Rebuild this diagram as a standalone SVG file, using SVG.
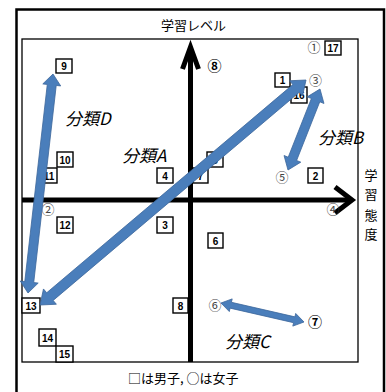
<svg xmlns="http://www.w3.org/2000/svg" width="386" height="392" viewBox="0 0 386 392">
<style>
.box rect{fill:#fff;stroke:#000;stroke-width:1.4}
.box text{font-family:"Liberation Sans Narrow","Liberation Sans",sans-serif;font-weight:bold;font-size:10px;text-anchor:middle;fill:#000}
.circ{font-family:"Noto Sans CJK JP","DejaVu Sans",sans-serif;font-size:13px;text-anchor:middle;fill:#444}
.circb{font-family:"Noto Sans CJK JP","DejaVu Sans",sans-serif;font-size:14px;font-weight:bold;text-anchor:middle;fill:#000}
.lbl{font-family:"Noto Sans CJK JP",sans-serif;font-size:17px;font-style:italic;fill:#000}
.jp{font-family:"Noto Sans CJK JP",sans-serif;font-size:13px;fill:#000}
.blue{fill:#4a7ebb;stroke:#3b669a;stroke-width:0.8}
.axis{stroke:#000;fill:none;stroke-width:5;stroke-linejoin:miter}
</style>
<rect width="386" height="392" fill="#fff"/>
<g id="frame">
<path d="M16.5,395 V9.5 H384 V395" fill="none" stroke="#000" stroke-width="2.5"/>
<rect x="22" y="39" width="336" height="323" fill="none" stroke="#000" stroke-width="1.3"/>
</g>
<g id="axes">
<line class="axis" x1="190.5" y1="362" x2="190.5" y2="48" stroke-width="4.5"/>
<polyline class="axis" points="182.5,69 190.5,47 198.5,69" stroke-width="4.5"/>
<line class="axis" x1="22" y1="200" x2="352" y2="200"/>
<polyline class="axis" points="335,187 352,200 335,213" stroke-width="5.5"/>
</g>
<g id="axis-labels">
<text class="jp" x="161" y="30">学習レベル</text>
<text class="jp" text-anchor="middle"><tspan x="371" y="180">学</tspan><tspan x="371" y="199">習</tspan><tspan x="371" y="220">態</tspan><tspan x="371" y="239">度</tspan></text>
<text class="jp" x="128" y="383">□は男子, ○は女子</text>
</g>
<g id="boys">
<g class="box" id="b9"><rect x="56" y="59" width="16" height="14"/><text x="64" y="70">9</text></g>
<g class="box" id="b10"><rect x="57" y="152" width="16" height="15"/><text x="65" y="163.5">10</text></g>
<g class="box" id="b11"><rect x="41" y="168" width="16" height="15"/><text x="49" y="179.5">11</text></g>
<g class="box" id="b4"><rect x="157" y="168" width="16" height="15"/><text x="165" y="179.5">4</text></g>
<g class="box" id="b7"><rect x="193" y="168" width="15" height="15"/><text x="200.5" y="179.5">7</text></g>
<g class="box" id="b5"><rect x="207" y="152" width="16" height="15"/><text x="215" y="163.5">5</text></g>
<g class="box" id="b1"><rect x="275" y="73" width="15" height="14"/><text x="282.5" y="84">1</text></g>
<g class="box" id="b16"><rect x="291" y="87" width="16" height="16"/><text x="299" y="99">16</text></g>
<g class="box" id="b17"><rect x="325" y="41" width="16" height="14"/><text x="333" y="52">17</text></g>
<g class="box" id="b2"><rect x="308" y="168" width="15" height="15"/><text x="315.5" y="179.5">2</text></g>
<g class="box" id="b12"><rect x="57" y="217" width="16" height="16"/><text x="65" y="229">12</text></g>
<g class="box" id="b3"><rect x="157" y="217" width="16" height="16"/><text x="165" y="229">3</text></g>
<g class="box" id="b6"><rect x="208" y="233" width="15" height="15"/><text x="215.5" y="244.5">6</text></g>
<g class="box" id="b13"><rect x="22" y="298" width="18" height="15"/><text x="31" y="309.5">13</text></g>
<g class="box" id="b8"><rect x="173" y="298" width="15" height="15"/><text x="180.5" y="309.5">8</text></g>
<g class="box" id="b14"><rect x="39" y="329" width="17" height="17"/><text x="47.5" y="341.5">14</text></g>
<g class="box" id="b15"><rect x="56" y="346" width="17" height="16"/><text x="64.5" y="358">15</text></g>
</g>
<g id="girls">
<text class="circ" id="g1" x="314" y="52">①</text>
<text class="circ" id="g3" x="315.5" y="84.5">③</text>
<text class="circ" id="g5" x="282" y="181.5">⑤</text>
<text class="circ" id="g2" x="48" y="213.5">②</text>
<text class="circ" id="g4" x="333" y="214">④</text>
<text class="circ" id="g6" x="215" y="310">⑥</text>
<text class="circb" id="g7" x="315" y="327">⑦</text>
<text class="circb" id="g8" x="214.5" y="71">⑧</text>
</g>
<g id="connectors">
<polygon class="blue" id="arrowD" points="28,293 38.19,283.09 33.72,282.58 56.22,85.44 60.69,85.95 53,74 42.81,83.91 47.28,84.42 24.78,281.56 20.31,281.05"/>
<polygon class="blue" id="arrowA" points="40,305 56.39,304.24 53.16,300.42 299.30,92.22 302.53,96.04 306,80 289.61,80.76 292.84,84.58 46.70,292.78 43.47,288.96"/>
<polygon class="blue" id="arrowB" points="288,170 300.78,162.15 296.60,160.49 319.78,101.81 323.96,103.47 320,89 307.22,96.85 311.40,98.51 288.22,157.19 284.04,155.53"/>
<polygon class="blue" id="arrowC" points="221,303 229.30,311.57 230.08,308.15 293.58,322.69 292.80,326.11 304,322 295.70,313.43 294.92,316.85 231.42,302.31 232.20,298.89"/>
</g>
<g id="groups">
<text class="lbl" x="65" y="125">分類D</text>
<text class="lbl" x="122" y="162">分類A</text>
<rect x="316" y="117" width="40" height="31" fill="#fff"/>
<text class="lbl" x="318" y="144">分類B</text>
<text class="lbl" x="225" y="348">分類C</text>
</g>
</svg>
